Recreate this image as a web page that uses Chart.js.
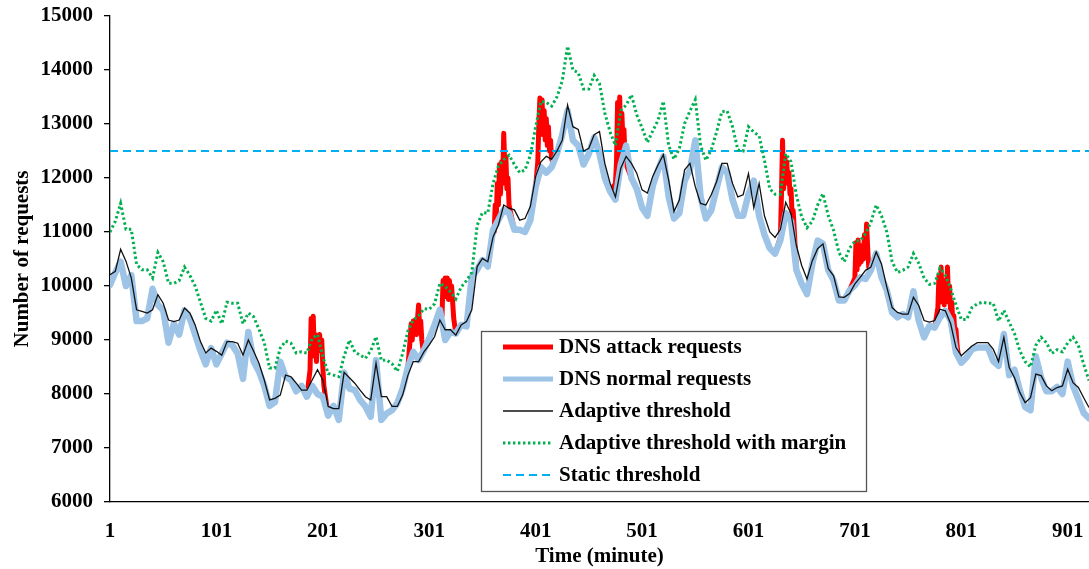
<!DOCTYPE html>
<html>
<head>
<meta charset="utf-8">
<script src="https://cdn.jsdelivr.net/npm/chart.js"></script>
<style>
  html, body { margin: 0; padding: 0; background: #fff; }
  #wrap { width: 1089px; height: 569px; }
</style>
</head>
<body>
<div id="wrap"><canvas id="dns" width="1089" height="569"></canvas></div>
<script>
// Sampling grid: one reading every 5 minutes, minute 1 .. 921
const minutes = [];
for (let m = 1; m <= 921; m += 5) minutes.push(m);

// Tick labels
const timeTicks = [1, 101, 201, 301, 401, 501, 601, 701, 801, 901];
const requestTicks = [6000, 7000, 8000, 9000, 10000, 11000, 12000, 13000, 14000, 15000];

// Legitimate DNS requests per minute
const normalRequests = [
  10020, 10250, 10450, 10000, 10200, 9350, 9350, 9400, 9950, 9650,
  9550, 8950, 9300, 9100, 9550, 9400, 9100, 8800, 8550, 8850,
  8550, 8750, 8950, 8900, 8750, 8280, 9150, 8600, 8420, 8150,
  7780, 7850, 8600, 8320, 8260, 8050, 8150, 7950, 8150, 8000,
  7950, 7600, 7780, 7520, 8400, 8100, 8070, 7890, 7770, 7580,
  8630, 7520, 7640, 7700, 7830, 8100, 8500, 8780, 8630, 8810,
  9030, 9280, 9560, 9000, 9150, 9120, 9280, 9250, 10170, 10300,
  10480, 10360, 11040, 11220, 11410, 11350, 11040, 11040, 11000, 11220,
  11840, 12200, 12100, 12200, 12450, 12800, 13250, 12700, 12600, 12250,
  12450, 12750, 12450, 12000, 11750, 11600, 12250, 12600, 12000, 11800,
  11450, 11300, 11850, 12150, 12400, 11650, 11250, 11350, 11950, 12150,
  12700, 11650, 11250, 11400, 11800, 12200, 12100, 11600, 11300, 11300,
  11700, 11950, 11300, 10950, 10700, 10600, 10850, 11350, 11200, 10300,
  10040, 9850, 10410, 10840, 10780, 10290, 10100, 9730, 9730, 9920,
  10010, 10160, 10130, 10290, 10600, 10160, 9920, 9510, 9420, 9480,
  9420, 9900, 9360, 9050, 9260, 9230, 9420, 9540, 9360, 8770,
  8580, 8680, 8830, 8860, 8860, 8860, 8610, 8520, 9110, 8350,
  8450, 8070, 7760, 7700, 8700, 8300, 8050, 8050, 8130, 8000,
  8600, 8150, 7900, 7650, 7550
];

// Adaptive threshold
const adaptiveThreshold = [
  10210, 10270, 10680, 10460, 10150, 9560, 9530, 9500, 9560, 9840,
  9680, 9370, 9340, 9370, 9590, 9500, 9280, 8970, 8760, 8850,
  8790, 8720, 8970, 8970, 8940, 8720, 9000, 8790, 8570, 8260,
  7890, 7920, 7980, 8350, 8320, 8200, 8070, 8070, 8260, 8450,
  8260, 7770, 7730, 7730, 8400, 8300, 8200, 8070, 7950, 7890,
  8570, 7950, 7950, 7770, 7770, 7980, 8350, 8600, 8600, 8780,
  8910, 9060, 9370, 9190, 9190, 9090, 9280, 9340, 9560, 10360,
  10510, 10450, 10910, 11130, 11500, 11440, 11410, 11220, 11250, 11470,
  12030, 12300, 12400, 12350, 12500, 12700, 13350, 12950, 12900, 12500,
  12550, 12800, 12860, 12270, 11900, 11650, 12180, 12400, 12270, 12090,
  11780, 11720, 12030, 12240, 12430, 11960, 11380, 11590, 12150, 12270,
  11840, 11530, 11500, 11690, 11930, 12270, 12270, 11900, 11650, 11690,
  12080, 11450, 11900, 11300, 11000, 10900, 11050, 11550, 11340, 10750,
  10380, 10130, 10470, 10690, 10780, 10320, 10190, 9800, 9790, 9860,
  10040, 10160, 10290, 10350, 10630, 10410, 9980, 9600, 9510, 9480,
  9480, 9790, 9640, 9360, 9330, 9360, 9570, 9540, 9300, 8860,
  8710, 8800, 8890, 8950, 8950, 8950, 8830, 8600, 9050, 8490,
  8300, 8030, 7840, 7930, 8370, 8340, 8150, 8060, 8120, 8150,
  8460, 8210, 8120, 7930, 7750
];

// Adaptive threshold plus safety margin
const marginThreshold = [
  11000, 11200, 11530, 11050, 11050, 10400, 10300, 10300, 10150, 10620,
  10450, 10050, 10050, 10100, 10350, 10200, 10000, 9700, 9400, 9350,
  9550, 9300, 9700, 9680, 9680, 9300, 9500, 9430, 9200, 8950,
  8480, 8480, 8850, 8980, 8940, 8760, 8780, 8760, 9030, 9100,
  8700, 8380, 8350, 8320, 8700, 9000, 8780, 8720, 8660, 8800,
  9060, 8620, 8630, 8560, 8420, 8750, 9170, 9370, 9450, 9580,
  9570, 9670, 10050, 9990, 9890, 9760, 9980, 10100, 10250, 11120,
  11360, 11350, 11900, 12220, 12340, 12420, 12250, 12100, 12150, 12420,
  12950, 13420, 13400, 13330, 13500, 13800, 14440, 14000, 13950, 13650,
  13650, 13900, 13750, 13200, 12850, 12600, 13250, 13350, 13540, 13170,
  12930, 12660, 12870, 13070, 13420, 12600, 12350, 12540, 13010, 13240,
  13450, 12600, 12330, 12520, 12850, 13230, 13240, 12950, 12520, 12500,
  12950, 12850, 12780, 12330, 11800, 11700, 11700, 12450, 12300, 11680,
  11280, 11080, 11200, 11500, 11710, 11300, 11030, 10620, 10450, 10700,
  10830, 10840, 10970, 11180, 11500, 11300, 11000, 10450, 10250, 10290,
  10350, 10600, 10420, 10150, 10030, 10050, 10330, 10200, 9950, 9650,
  9380, 9380, 9600, 9670, 9700, 9680, 9680, 9350, 9550, 9330,
  9120, 8800, 8600, 8500, 8900, 9050, 8950, 8750, 8820, 8780,
  8950, 9050, 8900, 8550, 8250
];

// Requests observed minute by minute during the attack bursts (legitimate + malicious)
const attackMinutes = [
  189, 190, 191, 192, 193, 194, 195, 196, 197, 198, 199, 200, 201, 202,
  282, 283, 284, 285, 286, 287, 288, 289, 290, 291, 292, 293, 294, 295,
  313, 314, 315, 316, 317, 318, 319, 320, 321, 322, 323, 324,
  362, 363, 364, 365, 366, 367, 368, 369, 370, 371, 372, 373, 374, 375, 376, 377,
  403, 404, 405, 406, 407, 408, 409, 410, 411, 412, 413, 414, 415, 416, 417,
  476, 477, 478, 479, 480, 481, 482, 483, 484, 485, 486, 487,
  631, 632, 633, 634, 635, 636, 637, 638, 639, 640, 641, 642, 643, 644,
  701, 702, 703, 704, 705, 706, 707, 708, 709, 710, 711, 712, 713, 714,
  779, 780, 781, 782, 783, 784, 785, 786, 787, 788, 789, 790, 791, 792, 793, 794, 795, 796, 797, 798
];
const attackRequests = [
  8450, 9400, 9000, 9440, 8700, 9100, 8600, 9050, 8850, 9100, 8800, 9000, 8500, 8150,
  8750, 9000, 9300, 9000, 9350, 9100, 9370, 9100, 9400, 9650, 9200, 9350, 9000, 8850,
  9450, 10100, 9800, 10150, 9900, 10150, 9750, 10100, 9850, 10000, 9700, 9400,
  11000, 11500, 11300, 11900, 11500, 12250, 11700, 12300, 11900, 12830, 12200, 12400, 11800, 12000, 11500, 11400,
  12300, 13000, 13480, 12900, 13450, 12800, 13250, 12700, 13100, 12600, 12950, 12500, 12700, 12350, 12300,
  11900, 12300, 13400, 12100, 13500, 12500, 13200, 12700, 12900, 12350, 12500, 12200,
  10900, 11700, 12700, 11800, 12400, 12000, 12300, 11900, 12100, 11700, 11800, 11300, 11400, 11050,
  10150, 10800, 10300, 10850, 10400, 10700, 10450, 10750, 10500, 10950, 10600, 11150, 10700, 10350,
  9600, 10200, 9700, 10350, 9800, 10000, 9650, 10100, 9800, 10350, 9700, 10000, 9500, 9700, 9350, 9450, 9100, 9200, 8900, 8750
];

const staticThreshold = 12500;

// Group the attack readings into bursts (a new burst starts after a gap)
const bursts = [];
attackMinutes.forEach(m => {
  const last = bursts[bursts.length - 1];
  if (!last || m - last.end > 10) bursts.push({ start: m, end: m });
  else last.end = m;
});
const inBurst = m => bursts.some(b => m >= b.start && m <= b.end);

// Observed traffic: normal readings outside the bursts, attack readings inside
const observedPoints = minutes
  .map((m, i) => ({ x: m, y: normalRequests[i] }))
  .filter(p => !inBurst(p.x))
  .concat(attackMinutes.map((m, i) => ({ x: m, y: attackRequests[i] })))
  .sort((a, b) => a.x - b.x);

const toPoints = vals => minutes.map((m, i) => ({ x: m, y: vals[i] }));

const FONT = { family: '"Liberation Serif", "Times New Roman", serif', size: 21, weight: 'bold' };

// Boxed legend drawn inside the plot area
const boxedLegend = {
  id: 'boxedLegend',
  afterDraw(chart) {
    const ctx = chart.ctx;
    const box = { x: 481.5, y: 331.5, w: 385, h: 160 };
    const rowTop = 347, rowGap = 32;
    ctx.save();
    ctx.fillStyle = '#ffffff';
    ctx.fillRect(box.x, box.y, box.w, box.h);
    ctx.strokeStyle = '#555555';
    ctx.lineWidth = 1.3;
    ctx.strokeRect(box.x, box.y, box.w, box.h);
    const order = ['DNS attack requests', 'DNS normal requests', 'Adaptive threshold',
                   'Adaptive threshold with margin', 'Static threshold'];
    order.forEach((label, i) => {
      const ds = chart.data.datasets.find(d => d.label === label);
      const y = rowTop + i * rowGap;
      ctx.beginPath();
      ctx.setLineDash(ds.borderDash || []);
      ctx.strokeStyle = ds.borderColor;
      ctx.lineWidth = Math.min(ds.borderWidth, 5);
      ctx.lineCap = 'butt';
      ctx.moveTo(503, y);
      ctx.lineTo(553, y);
      ctx.stroke();
      ctx.setLineDash([]);
      ctx.fillStyle = '#000000';
      ctx.font = `bold ${FONT.size}px ${FONT.family}`;
      ctx.textBaseline = 'middle';
      ctx.textAlign = 'left';
      ctx.fillText(label, 559, y + 1);
    });
    ctx.restore();
  }
};

new Chart(document.getElementById('dns'), {
  type: 'line',
  data: {
    datasets: [
      {
        label: 'Adaptive threshold with margin',
        data: toPoints(marginThreshold),
        borderColor: '#00B050',
        borderWidth: 3,
        borderDash: [2.4, 2.6],
        order: 0
      },
      {
        label: 'Adaptive threshold',
        data: toPoints(adaptiveThreshold),
        borderColor: '#111111',
        borderWidth: 1.3,
        order: 1
      },
      {
        label: 'Static threshold',
        data: [{ x: 1, y: staticThreshold }, { x: 921, y: staticThreshold }],
        borderColor: '#00B0F0',
        borderWidth: 2,
        borderDash: [8, 5],
        order: 2
      },
      {
        label: 'DNS normal requests',
        data: toPoints(normalRequests),
        borderColor: '#9DC3E6',
        borderWidth: 6.5,
        borderJoinStyle: 'round',
        borderCapStyle: 'round',
        order: 3
      },
      {
        label: 'DNS attack requests',
        data: observedPoints,
        borderColor: '#FF0000',
        borderWidth: 5,
        borderJoinStyle: 'round',
        borderCapStyle: 'round',
        order: 4
      }
    ]
  },
  options: {
    responsive: false,
    animation: false,
    devicePixelRatio: 1,
    layout: { padding: { top: 16, right: 0, bottom: 0, left: 0 } },
    elements: { point: { radius: 0 }, line: { tension: 0, fill: false } },
    plugins: { legend: { display: false }, tooltip: { enabled: false } },
    scales: {
      x: {
        type: 'linear',
        min: 1,
        max: 921,
        afterBuildTicks: s => { s.ticks = timeTicks.map(v => ({ value: v })); },
        afterFit: s => { s.height = 67; s.paddingLeft = 0; s.paddingRight = 0; },
        grid: { display: false, drawTicks: false },
        border: { display: true, color: '#000000', width: 1.3 },
        ticks: { font: FONT, color: '#000000', padding: 17, maxRotation: 0, autoSkip: false,
                 callback: v => String(v) },
        title: { display: true, text: 'Time (minute)', font: FONT, color: '#000000',
                 padding: { top: 0, bottom: 0 } }
      },
      y: {
        min: 6000,
        max: 15000,
        afterBuildTicks: s => { s.ticks = requestTicks.map(v => ({ value: v })); },
        afterFit: s => { s.width = 110; s.paddingTop = 0; s.paddingBottom = 0; },
        grid: { display: true, drawOnChartArea: false, drawTicks: true, tickLength: 6,
                color: '#000000', lineWidth: 1.3 },
        border: { display: true, color: '#000000', width: 1.3 },
        ticks: { font: FONT, color: '#000000', padding: 11, callback: v => String(v) },
        title: { display: true, text: 'Number of requests', font: FONT, color: '#000000',
                 padding: { top: 10, bottom: 0 } }
      }
    }
  },
  plugins: [boxedLegend]
});
</script>
</body>
</html>
